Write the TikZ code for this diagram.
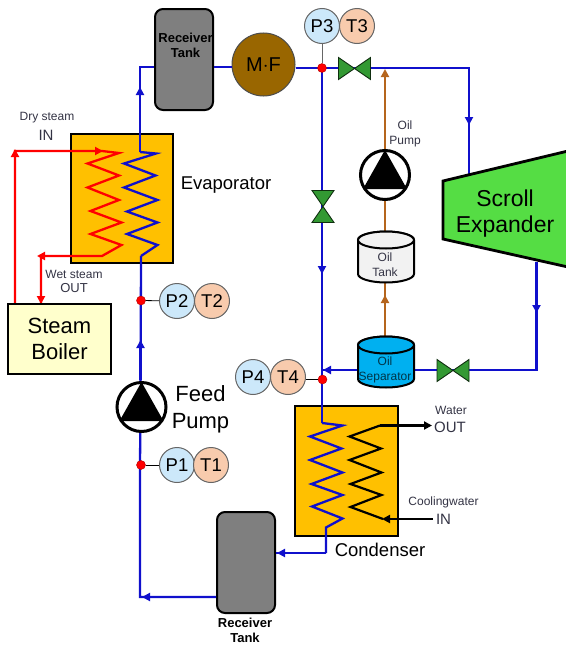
\documentclass[tikz,border=0pt]{standalone}
\usepackage{fontspec}
\setmainfont{Liberation Sans}
\usetikzlibrary{arrows.meta,calc}
\definecolor{pipeblue}{HTML}{1010CC}
\definecolor{hxfill}{HTML}{FFC000}
\definecolor{tankgray}{HTML}{7F7F7F}
\definecolor{mfbrown}{HTML}{996600}
\definecolor{oilbrown}{HTML}{B5651D}
\definecolor{valvegreen}{HTML}{339933}
\definecolor{pblue}{HTML}{CCE8FA}
\definecolor{torange}{HTML}{F8CBAD}
\definecolor{expgreen}{HTML}{55DD44}
\definecolor{sepblue}{HTML}{00B0F0}
\definecolor{oilgray}{HTML}{F2F2F2}
\definecolor{boilerfill}{HTML}{FFFFCC}
\definecolor{labelink}{HTML}{333344}
\tikzset{
  lab/.style 2 args={font=\fontsize{#1}{#2}\selectfont,inner sep=0pt,align=center},
  tip/.style={-{Triangle[length=8pt,width=8pt]}},
  bluepipe/.style={draw=pipeblue,line width=2.3pt,line join=miter},
  redpipe/.style={draw=red,line width=2.3pt},
  blackpipe/.style={draw=black,line width=2.2pt},
  oilpipe/.style={draw=oilbrown,line width=2.2pt},
  hx/.style={draw=black,line width=2pt,fill=hxfill,minimum width=102pt,minimum height=129pt,inner sep=0pt},
  recv/.style={draw=black,line width=2pt,fill=tankgray,rounded corners=8pt,minimum width=58pt,minimum height=101pt,inner sep=0pt},
  gauge/.style={circle,draw=gray!80!black,line width=1pt,minimum size=35pt,inner sep=0pt,font=\fontsize{18.5}{20}\selectfont},
  pgauge/.style={gauge,fill=pblue},
  tgauge/.style={gauge,fill=torange},
  tapdot/.style={circle,fill=red,draw=red!70!black,line width=.4pt,minimum size=9pt,inner sep=0pt},
  pumpring/.style={circle,draw=black,line width=3pt,fill=white,minimum size=49pt,inner sep=0pt},
  valvepart/.style={fill=valvegreen,draw=black!70!valvegreen,line width=.9pt,line join=miter},
  tankside/.style={line width=2pt,draw=black},
}
\newcommand{\pumpglyph}[2]{%
  \fill[black] (#1,#2-25) -- (#1+22,#2+14) -- (#1-22,#2+14) -- cycle;}
\newcommand{\hvalve}[2]{%
  \path[valvepart] (#1-16,#2-11) -- (#1+16,#2+11) -- (#1+16,#2-11) -- (#1-16,#2+11) -- cycle;}
\newcommand{\vvalve}[2]{%
  \path[valvepart] (#1-11,#2-16) -- (#1+11,#2+16) -- (#1-11,#2+16) -- (#1+11,#2-16) -- cycle;}
\newcommand{\drum}[3]{% x, y-centre, fill
  \path[tankside,fill=#3] (#1-28,#2-17) -- (#1-28,#2+17) arc[start angle=180,end angle=0,x radius=28,y radius=8.5] -- (#1+28,#2-17) arc[start angle=0,end angle=-180,x radius=28,y radius=8.5] -- cycle;
  \path[tankside,fill=#3] (#1,#2-17) ellipse[x radius=28,y radius=8.5];}
\begin{document}
\begin{tikzpicture}[x=1pt,y=-1pt]
\useasboundingbox (0,0) rectangle (565,645);
% junctions and free ends
\coordinate (jTopL) at (140,67);
\coordinate (aTopL) at (140,87);
\coordinate (jP3) at (322,68);
\coordinate (jOil) at (385,68);
\coordinate (jTopR) at (469,68);
\coordinate (aTopR) at (469,125);
\coordinate (expIn) at (469,176);
\coordinate (expOut) at (536.5,262);
\coordinate (aExp) at (536.5,313);
\coordinate (jExpB) at (536.5,370);
\coordinate (jSep) at (322,370);
\coordinate (aDown) at (322,274);
\coordinate (jBotL) at (140,597);
\coordinate (aBotL) at (142,597);
\coordinate (aFeed) at (140.5,340);
% hx and vessels
\node[hx] (evap) at (122,198.5) {};
\node[hx,minimum width=103pt,minimum height=130pt] (cond) at (346.5,471) {};
% process lines
\node[recv] (rtTop) at (184,59.5) {};
\node[circle,draw=black!70,line width=1pt,fill=mfbrown,minimum size=63pt,inner sep=0pt,font=\fontsize{20}{20}\selectfont] (mf) at (263.5,64.5) {M$\cdot$F};
\node[recv] (rtBot) at (246,562.5) {};
\draw[bluepipe] (rtTop.east |- jTopL) -- (mf.west |- jTopL);
\draw[bluepipe] (mf.east |- jP3) -- (jP3) -- (jTopR) -- (expIn);
\draw[bluepipe,tip] (jTopR) -- (aTopR);
\draw[bluepipe] (jP3) -- (jSep);
\draw[bluepipe,tip] (jP3) -- (aDown);
\draw[bluepipe] (rtTop.west |- jTopL) -- (jTopL) -- (140,152);
\draw[bluepipe,tip] (140,112) -- (aTopL);
% evaporator coils
\draw[redpipe] (15,304) -- (15,151) -- (102,151) -- (119,153) -- (87.5,163.5) -- (119,175.5) -- (87.5,187.5) -- (119,200) -- (90.5,211) -- (121.5,222.5) -- (90.5,234) -- (121.5,245) -- (102,256) -- (41,256) -- (41,304);
\draw[redpipe,tip] (15,190) -- (15,149);
\draw[redpipe,tip] (60,151) -- (103,151);
\draw[redpipe,tip] (70,256) -- (37,256);
\draw[redpipe,tip] (41,280) -- (41,304);
\draw[bluepipe] (140,152) -- (156,153.5) -- (124,163.5) -- (155.5,175.5) -- (124,187.5) -- (157.5,200) -- (127,211.5) -- (157.5,222.5) -- (127,234) -- (157.5,245) -- (141,256);
% feed line
\draw[bluepipe] (141,256) -- (140.5,407) -- (140,465) -- (jBotL) -- (rtBot.west |- jBotL);
\draw[bluepipe,tip] (140.5,380) -- (aFeed);
\draw[bluepipe,tip] (185,597) -- (aBotL);
% condenser coils
\draw[bluepipe] (jSep) -- (322,423);
\draw[bluepipe] (322,423) -- (342.5,425.5) -- (310,436.5) -- (341.5,448.5) -- (310,460) -- (342.5,472.5) -- (311.5,484) -- (342.5,495) -- (312,506.5) -- (342.5,518.5) -- (326,527.5) -- (326,553);
\draw[bluepipe] (326,553) -- (rtBot.east |- 326,553);
\draw[bluepipe,tip] (300,553) -- (277,553);
\draw[blackpipe] (380,425.5) -- (349.5,436.5) -- (381,448.5) -- (349.5,460) -- (381.5,472.5) -- (350.5,484) -- (381.5,495) -- (350.5,507) -- (383,519);
\draw[blackpipe,tip] (380,425.5) -- (432,425.5);
\draw[blackpipe,tip] (433,519) -- (382,519);
% oil line
\draw[oilpipe,tip] (385,150) -- (385,69);
\draw[oilpipe] (385,200) -- (385,231);
\draw[oilpipe] (385,283) -- (385,340);
\draw[oilpipe,tip] (385,320) -- (385,295);
% separator line
\draw[bluepipe] (expOut) -- (jExpB) -- (jSep);
\draw[bluepipe,tip] (expOut) -- (aExp);
\draw[bluepipe,tip] (345,370) -- (323,370);
% expander
\path[draw=black,line width=2.8pt,fill=expgreen,line join=miter] (443,181) -- (568,151) -- (568,267) -- (443,239) -- cycle;
\node[lab={23}{26}] (expLabel) at (505,214) {Scroll\\Expander};
% valves
\hvalve{354.5}{68.5}
\vvalve{323}{206.5}
\hvalve{453}{370.5}
% pumps
\node[pumpring] (oilPump) at (385,175) {};
\pumpglyph{385}{175}
\node[pumpring] (feedPump) at (141.5,407) {};
\pumpglyph{141.5}{407}
% drums
\drum{386}{257}{oilgray}
\drum{386}{362}{sepblue}
\node[lab={12}{15},text=labelink] (oilTankLabel) at (385,264.5) {Oil\\Tank};
\node[lab={12}{15},text=black!70!sepblue] (sepLabel) at (385,369.5) {Oil\\Separator};
% boiler
\node[draw=black,line width=2pt,fill=boilerfill,minimum width=103pt,minimum height=70pt,inner sep=0pt,lab={22}{26}] (boiler) at (59.5,339) {Steam\\Boiler};
% gauges
\node[tapdot] (d1) at (141,465) {};
\node[tapdot] (d2) at (141,300.5) {};
\node[tapdot] (d3) at (322,68) {};
\node[tapdot] (d4) at (322.5,379.5) {};
\node[pgauge] (p1) at (177,465) {P1};
\node[tgauge] (t1) at (211,465) {T1};
\node[pgauge] (p2) at (177,301) {P2};
\node[tgauge] (t2) at (212,301) {T2};
\node[pgauge] (p3) at (322,26) {P3};
\node[tgauge] (t3) at (357,26) {T3};
\node[pgauge] (p4) at (253,377) {P4};
\node[tgauge] (t4) at (288,377) {T4};
\draw[black,line width=.8pt] (d1) -- (p1);
\draw[black,line width=.8pt] (d2) -- (p2);
\draw[black!60,line width=1pt] (d3) -- (p3);
\draw[black,line width=.8pt] (d4) -- (t4.east |- d4);
% labels
\node[lab={13}{15},font=\bfseries\fontsize{13}{15}\selectfont] (rtTopLabel) at (185.5,45.5) {Receiver\\Tank};
\node[lab={13}{15},font=\bfseries\fontsize{13}{15}\selectfont] (rtBotLabel) at (245,630.5) {Receiver\\Tank};
\node[lab={18.5}{20}] (evapLabel) at (226,185.5) {Evaporator};
\node[lab={18.5}{20}] (condLabel) at (380,550) {Condenser};
\node[lab={22}{27}] (feedLabel) at (200.5,409) {Feed\\Pump};
\node[lab={12}{15},text=labelink] (oilPumpLabel) at (405,134) {Oil\\Pump};
\node[lab={12}{15},text=labelink] (dryLabel) at (47,118) {Dry steam};
\node[lab={15}{15},text=labelink] (dryIn) at (46,135) {IN};
\node[lab={12}{15},text=labelink] (wetLabel) at (74,274) {Wet steam};
\node[lab={13}{15},text=labelink] (wetOut) at (74,288.5) {OUT};
\node[lab={12}{15},text=labelink] (waterLabel) at (451,410) {Water};
\node[lab={15}{15},text=labelink] (waterOut) at (450,427) {OUT};
\node[lab={12}{15},text=labelink] (coolLabel) at (443.5,502) {Coolingwater};
\node[lab={15}{15},text=labelink] (coolIn) at (443.5,519) {IN};
\end{tikzpicture}
\end{document}
